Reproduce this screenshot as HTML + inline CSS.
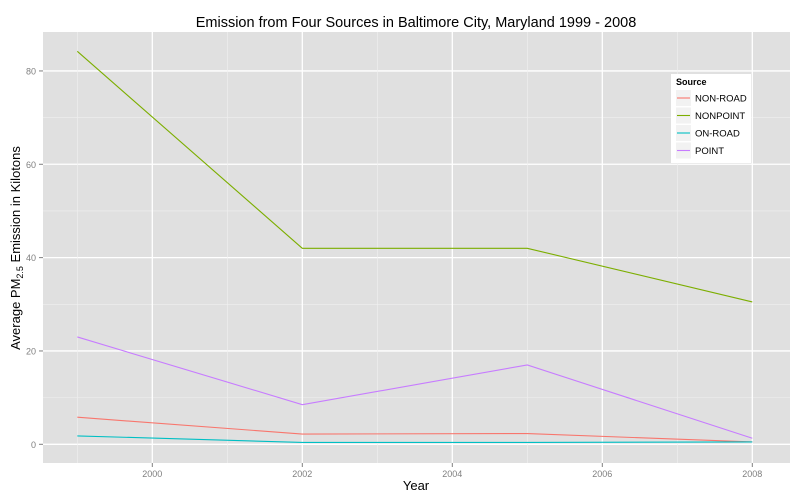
<!DOCTYPE html>
<html><head><meta charset="utf-8"><style>
body{margin:0;background:#fff;}
svg{display:block;font-family:"Liberation Sans",sans-serif;}
</style></head><body>
<svg id="chart" width="800" height="500" xmlns="http://www.w3.org/2000/svg">
<text x="416" y="27" text-anchor="middle" font-size="14.5" fill="#000">Emission from Four Sources in Baltimore City, Maryland 1999 - 2008</text>
<rect x="43" y="32" width="747" height="431" fill="#e0e0e0"/>
<g id="grid"></g>
<g id="axes"></g>
<g id="lines"></g>
<text x="416" y="490" text-anchor="middle" font-size="13">Year</text>
<text transform="translate(20,248) rotate(-90)" text-anchor="middle" font-size="13">Average PM<tspan font-size="9" dy="3">2.5</tspan><tspan dy="-3"> Emission in Kilotons</tspan></text>
<g id="legend">
<rect x="671" y="74" width="80" height="89" fill="#fff"/>
<text x="676" y="85" font-size="9" font-weight="bold">Source</text>
</g>
</svg>
<script>
const years=[1999,2002,2005,2008];
const seriesNames=["NON-ROAD","NONPOINT","ON-ROAD","POINT"];
const nonRoad=[5.8,2.2,2.3,0.5];
const nonPoint=[84.2,42,42,30.5];
const onRoad=[1.8,0.4,0.4,0.5];
const point=[23,8.5,17,1.3];
const xTicks=[2000,2002,2004,2006,2008];
const yTicks=[0,20,40,60,80];
const colors=["#F8766D","#7CAE00","#00BFC4","#C77CFF"];
const all=[nonRoad,nonPoint,onRoad,point];
const ns="http://www.w3.org/2000/svg";
const xs=y=>77.3+(y-1999)*75;
const ys=v=>444.3-v*4.667;
function mk(t,a,p){const e=document.createElementNS(ns,t);for(const k in a)e.setAttribute(k,a[k]);p.appendChild(e);return e;}
const g=document.getElementById('grid'),ax=document.getElementById('axes'),ln=document.getElementById('lines'),lg=document.getElementById('legend');
for(let i=0;i<yTicks.length;i++){
 const v=yTicks[i];
 if(i<yTicks.length-1){const m=mk('line',{x1:43,x2:790,y1:ys(v+10),y2:ys(v+10),stroke:'#f0f0f0','stroke-width':0.6},g);
 }
 const l=mk('line',{x1:43,x2:790,y1:ys(v),y2:ys(v),stroke:'#fff','stroke-width':1.3},g);
 
 mk('line',{x1:39,x2:43,y1:ys(v),y2:ys(v),stroke:'#7f7f7f'},ax);
 const t=mk('text',{x:36,y:ys(v)+3.5,'text-anchor':'end','font-size':9,fill:'#7f7f7f'},ax);t.textContent=v;
 
}
for(const v of [1999,2001,2003,2005,2007]){const m=mk('line',{x1:xs(v),x2:xs(v),y1:32,y2:463,stroke:'#f0f0f0','stroke-width':0.6},g);
 }
for(const v of xTicks){
 const l=mk('line',{x1:xs(v),x2:xs(v),y1:32,y2:463,stroke:'#fff','stroke-width':1.3},g);
 
 mk('line',{x1:xs(v),x2:xs(v),y1:463,y2:467,stroke:'#7f7f7f'},ax);
 const t=mk('text',{x:xs(v),y:477,'text-anchor':'middle','font-size':9,fill:'#7f7f7f'},ax);t.textContent=v;
 
}
all.forEach((s,i)=>{
 const p=mk('polyline',{points:s.map((v,j)=>xs(years[j])+','+ys(v)).join(' '),fill:'none',stroke:colors[i],'stroke-width':1.1},ln);
 
 const y0=90+i*17.5;
 mk('rect',{x:676,y:y0,width:15,height:16,fill:'#f2f2f2'},lg);
 mk('line',{x1:677,x2:690,y1:y0+8,y2:y0+8,stroke:colors[i],'stroke-width':1.1},lg);
 const t=mk('text',{x:695,y:y0+11.5,'font-size':9.5},lg);t.textContent=seriesNames[i];
 
});
</script>
</body></html>
